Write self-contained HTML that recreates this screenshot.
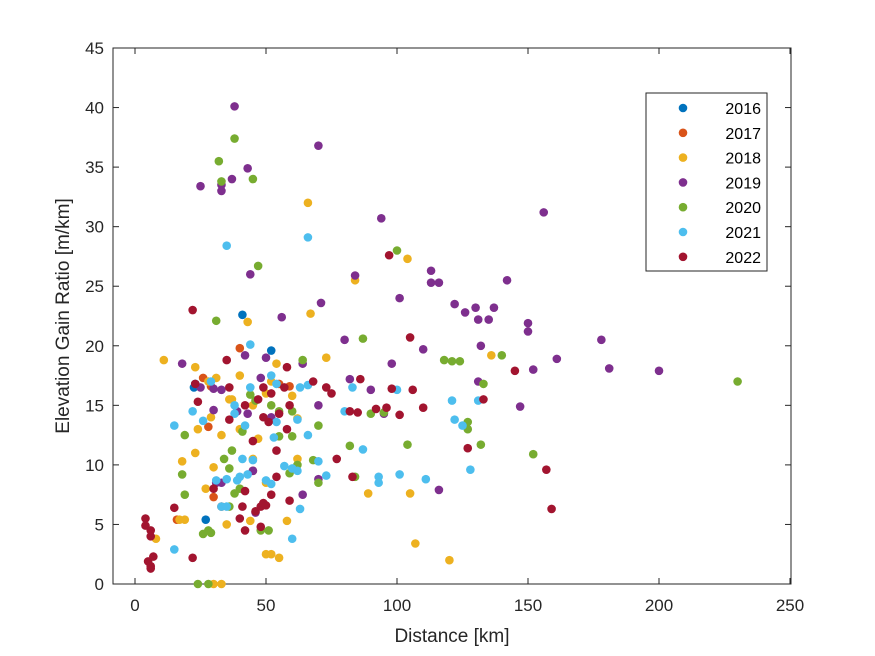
<!DOCTYPE html>
<html><head><meta charset="utf-8"><style>
body{margin:0;background:#fff;}
svg{display:block;font-family:"Liberation Sans",Arial,sans-serif;}
</style></head><body>
<svg id="chart" width="875" height="656" viewBox="0 0 875 656">
<rect width="875" height="656" fill="#fff"/>
<g id="axes"></g>
<g id="marks"></g>
<g id="legend"></g>
</svg>
<script>
const xTicks=[0,50,100,150,200,250];
const yTicks=[0,5,10,15,20,25,30,35,40,45];
const years=["2016","2017","2018","2019","2020","2021","2022"];
const colors=["#0072BD","#D95319","#EDB120","#7E2F8E","#77AC30","#4DBEEE","#A2142F"];
const s2016=[[22.5,16.5],[41,22.6],[52,19.6],[27,5.4],[23,16.8]];
const s2017=[[40,19.8],[26,17.3],[28,13.2],[16,5.4],[30,7.3],[33,6.5],[55,16.8],[31,8.5],[45,9.5],[59,16.6],[29,16.6]];
const s2018=[[11,18.8],[23,18.2],[28,17],[31,17.3],[36,15.5],[29,14],[24,13],[23,11],[18,10.3],[17,5.4],[8,3.8],[19,5.4],[30,9.8],[33,12.5],[40,13],[37,15.5],[43,22],[50,16],[52,17],[54,18.5],[47,12.2],[45,10.5],[50,8.5],[35,5],[44,5.3],[50,2.5],[52,2.5],[55,2.2],[58,5.3],[62,10.5],[66,32],[67,22.7],[73,19],[84,25.5],[89,7.6],[104,27.3],[105,7.6],[107,3.4],[120,2],[136,19.2],[30,0],[33,0],[27,8],[40,17.5],[45,15],[62,13.9],[60,15.8]];
const s2019=[[38,40.1],[70,36.8],[25,33.4],[33,33.5],[33,33],[37,34],[43,34.9],[94,30.7],[156,31.2],[84,25.9],[101,24],[113,26.3],[113,25.3],[116,25.3],[142,25.5],[130,23.2],[137,23.2],[126,22.8],[131,22.2],[135,22.2],[150,21.9],[150,21.2],[71,23.6],[56,22.4],[44,26],[122,23.5],[178,20.5],[161,18.9],[181,18.1],[200,17.9],[152,18],[132,20],[131,17],[147,14.9],[116,7.9],[110,19.7],[98,18.5],[80,20.5],[42,19.2],[18,18.5],[25,16.5],[30,16.4],[33,16.3],[30,14.6],[43,14.3],[48,17.3],[50,19],[64,18.5],[82,17.2],[90,16.3],[95,14.3],[70,8.8],[64,7.5],[52,14],[45,9.5],[46,6],[33,8.5],[31,8.5],[39,14.5],[70,15]];
const s2020=[[38,37.4],[32,35.5],[33,33.8],[45,34],[47,26.7],[31,22.1],[100,28],[64,18.8],[87,20.6],[118,18.8],[121,18.7],[140,19.2],[124,18.7],[230,17],[133,16.8],[127,13.6],[127,13],[132,11.7],[152,10.9],[104,11.7],[95,14.4],[90,14.3],[82,11.6],[84,9],[70,13.3],[60,12.4],[55,12.4],[41,12.8],[37,11.2],[36,9.7],[46,15.4],[44,15.9],[52,15],[55,14.5],[62,10],[68,10.4],[70,8.5],[59,9.3],[51,4.5],[48,4.5],[29,4.3],[28,4.5],[26,4.2],[19,12.5],[18,9.2],[19,7.5],[24,0],[28,0],[34,10.5],[40,8],[38,7.6],[60,14.5],[36,6.5]];
const s2021=[[35,28.4],[66,29.1],[44,20.1],[54,16.8],[52,17.5],[63,16.5],[83,16.5],[62,13.8],[54,13.6],[66,12.5],[80,14.5],[100,16.3],[122,13.8],[125,13.3],[128,9.6],[121,15.4],[131,15.4],[101,9.2],[93,9],[93,8.5],[111,8.8],[73,9.1],[87,11.3],[60,9.7],[62,9.5],[63,6.3],[60,3.8],[39,8.7],[40,9],[41,10.5],[43,9.2],[35,8.8],[33,6.5],[31,8.7],[35,6.5],[45,10.4],[50,8.7],[52,8.4],[57,9.9],[15,13.3],[15,2.9],[29,17],[22,14.5],[26,13.7],[38,14.3],[38,15],[42,13.3],[53,12.3],[44,16.5],[70,10.3],[66,16.7]];
const s2022=[[97,27.6],[22,23],[105,20.7],[145,17.9],[157,9.6],[159,6.3],[106,16.3],[98,16.4],[101,14.2],[110,14.8],[133,15.5],[127,11.4],[86,17.2],[73,16.5],[75,16],[82,14.5],[85,14.4],[92,14.7],[96,14.8],[77,10.5],[83,9],[47,15.5],[42,15],[49,16.5],[52,16],[57,16.5],[59,15],[55,14.3],[49,14],[51,13.6],[36,13.8],[36,16.5],[35,18.8],[23,16.8],[24,15.3],[30,8],[41,6.5],[42,7.8],[46,6.1],[48,6.5],[49,6.8],[50,6.6],[52,7.5],[54,9],[59,7],[42,4.5],[48,4.8],[4,5.5],[4,4.9],[6,4.5],[6,4],[5,1.9],[6,1.5],[6,1.3],[7,2.3],[15,6.4],[22,2.2],[58,13],[54,11.2],[45,12],[40,5.5],[68,17],[58,18.2]];
const series=[s2016,s2017,s2018,s2019,s2020,s2021,s2022];

const NS="http://www.w3.org/2000/svg";
const L=113,R=791,T=48,B=584;
const xS=v=>135+v*2.62;
const yS=v=>B-v*(B-T)/45;
function mk(tag,attrs,parent){const e=document.createElementNS(NS,tag);for(const k in attrs)e.setAttribute(k,attrs[k]);parent.appendChild(e);return e;}
const ax=document.getElementById('axes'),mg=document.getElementById('marks'),lg=document.getElementById('legend');

series.forEach((pts,si)=>{
  const g=mk('g',{},mg);
  
  
  pts.forEach(p=>{
    const c=mk('circle',{cx:xS(p[0]),cy:yS(p[1]),r:4.3,fill:colors[si]},g);
    
    
  });
});

const frame=mk('rect',{x:L,y:T,width:R-L,height:B-T,fill:'none',stroke:'#262626','stroke-width':1},ax);


xTicks.forEach(t=>{
  const x=xS(t);
  mk('line',{x1:x,x2:x,y1:B,y2:B-6,stroke:'#262626'},ax);
  mk('line',{x1:x,x2:x,y1:T,y2:T+6,stroke:'#262626'},ax);
  const tx=mk('text',{x:x,y:611,'text-anchor':'middle','font-size':17,fill:'#262626'},ax);
  tx.textContent=t;
  
  
});
yTicks.forEach(t=>{
  const y=yS(t);
  mk('line',{x1:L,x2:L+6,y1:y,y2:y,stroke:'#262626'},ax);
  mk('line',{x1:R,x2:R-6,y1:y,y2:y,stroke:'#262626'},ax);
  const tx=mk('text',{x:104,y:y+6,'text-anchor':'end','font-size':17,fill:'#262626'},ax);
  tx.textContent=t;
  
  
});
const xt=mk('text',{x:452,y:642,'text-anchor':'middle','font-size':19,fill:'#262626'},ax);
xt.textContent='Distance [km]';


const yt=mk('text',{x:0,y:0,'text-anchor':'middle','font-size':19,fill:'#262626',transform:'translate(69,316) rotate(-90)'},ax);
yt.textContent='Elevation Gain Ratio [m/km]';



const lb=mk('rect',{x:646,y:93,width:121,height:178,fill:'#fff',stroke:'#262626','stroke-width':1},lg);


years.forEach((yr,i)=>{
  const y=108+i*24.8;
  const g=mk('g',{},lg);
  
  
  mk('circle',{cx:683,cy:y,r:4.3,fill:colors[i]},g);
  const t=mk('text',{x:761,y:y+6,'text-anchor':'end','font-size':16,fill:'#000'},g);
  t.textContent=yr;
});
</script>
</body></html>
